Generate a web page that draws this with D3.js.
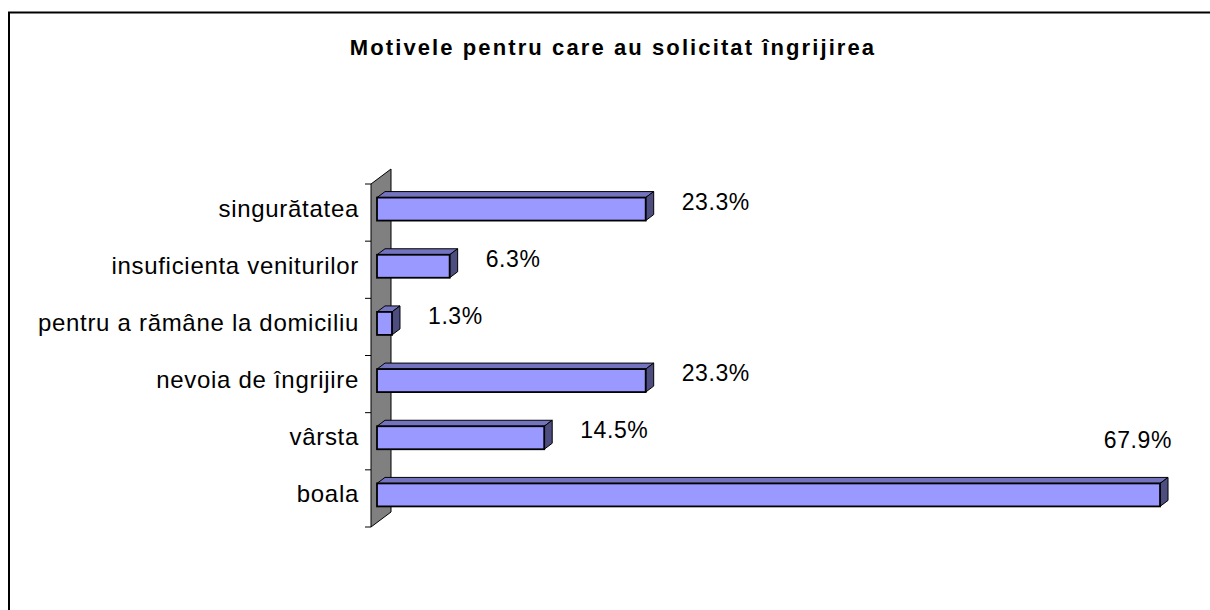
<!DOCTYPE html>
<html>
<head>
<meta charset="utf-8">
<script src="https://cdnjs.cloudflare.com/ajax/libs/d3/7.8.5/d3.min.js"></script>
<style>
  html, body { margin: 0; padding: 0; background: #fff; }
  svg text { font-family: "Liberation Sans", Arial, sans-serif; }
</style>
</head>
<body>
<div id="chart"></div>
<script>
// categories top to bottom, as in the picture
var categories = ['singurătatea', 'insuficienta veniturilor', 'pentru a rămâne la domiciliu',
                  'nevoia de îngrijire', 'vârsta', 'boala'];
var values = [23.3, 6.3, 1.3, 23.3, 14.5, 67.9];
var title = 'Motivele pentru care au solicitat îngrijirea';

var width = 1210;
var height = 610;

var svg = d3.select('#chart')
  .append('svg')
  .attr('width', width)
  .attr('height', height);

// outer frame (only left and top edges fall inside the picture)
svg.append('path')
  .attr('d', 'M9,' + height + 'V12.5H' + width)
  .attr('fill', 'none')
  .attr('stroke', '#000')
  .attr('stroke-width', 2);

svg.append('text')
  .attr('x', 613)
  .attr('y', 55)
  .attr('text-anchor', 'middle')
  .attr('font-weight', 'bold')
  .attr('font-size', 22)
  .attr('letter-spacing', 2.1)
  .text(title);

var x = d3.scaleLinear().domain([0, 70]).range([377, 377 + 70 * 11.532]);
var y = d3.scaleBand().domain(categories).range([184, 527]);

var depthX = 20, depthY = -15;   // wall depth
var barDX = 8, barDY = -6;       // bar depth
var barH = 23;

var wallX = 371;
// gray back wall
svg.append('path')
  .attr('d', 'M' + wallX + ',' + y.range()[0] +
    'L' + (wallX + depthX) + ',' + (y.range()[0] + depthY) +
    'L' + (wallX + depthX) + ',' + (y.range()[1] + depthY) +
    'L' + wallX + ',' + y.range()[1] + 'Z')
  .attr('fill', '#808080')
  .attr('stroke', '#000')
  .attr('stroke-width', 1);

// category ticks
var ticks = d3.range(categories.length + 1).map(function(i) { return y.range()[0] + i * y.step(); });
svg.append('g').selectAll('line')
  .data(ticks)
  .enter().append('line')
    .attr('x1', wallX - 6)
    .attr('x2', wallX)
    .attr('y1', function(d) { return d; })
    .attr('y2', function(d) { return d; })
    .attr('stroke', '#000');

// category labels
svg.append('g').selectAll('text')
  .data(categories)
  .enter().append('text')
    .attr('x', 359)
    .attr('y', function(d) { return y(d) + y.step() / 2 + 4; })
    .attr('text-anchor', 'end')
    .attr('font-size', 24)
    .attr('letter-spacing', 0.7)
    .text(function(d) { return d; });

// bars
var rows = categories.map(function(c, i) { return { name: c, value: values[i] }; });
var bar = svg.append('g').selectAll('g')
  .data(rows)
  .enter().append('g');

function barTop(d) { return y(d.name) + y.step() / 2 - 15; }

// top face
bar.append('path')
  .attr('d', function(d) {
    var x0 = x(0), x1 = x(d.value), t = barTop(d);
    return 'M' + x0 + ',' + t + 'L' + (x0 + barDX) + ',' + (t + barDY) +
      'L' + (x1 + barDX) + ',' + (t + barDY) + 'L' + x1 + ',' + t + 'Z';
  })
  .attr('fill', '#7373bf')
  .attr('stroke', '#000')
  .attr('stroke-linejoin', 'round');

// right face
bar.append('path')
  .attr('d', function(d) {
    var x1 = x(d.value), t = barTop(d);
    return 'M' + x1 + ',' + t + 'L' + (x1 + barDX) + ',' + (t + barDY) +
      'L' + (x1 + barDX) + ',' + (t + barDY + barH) + 'L' + x1 + ',' + (t + barH) + 'Z';
  })
  .attr('fill', '#4d4d80')
  .attr('stroke', '#000')
  .attr('stroke-linejoin', 'round');

// front face
bar.append('rect')
  .attr('x', x(0))
  .attr('y', barTop)
  .attr('width', function(d) { return x(d.value) - x(0); })
  .attr('height', barH)
  .attr('fill', '#9999ff')
  .attr('stroke', '#000')
  .attr('stroke-width', 1.8);

// value labels
var labelRight = 1172;
bar.append('text')
  .attr('font-size', 23)
  .attr('letter-spacing', 0.6)
  .text(function(d) { return d3.format('.1f')(d.value) + '%'; })
  .each(function(d) {
    var t = d3.select(this);
    var lx = x(d.value) + 36;
    var ly = y(d.name) + y.step() / 2 - 3;
    var w = this.getComputedTextLength();
    if (lx + w > labelRight) {
      // no room on the right: pull it back and lift it above the bar
      lx = labelRight - w;
      ly = y(d.name) + y.step() / 2 - 50;
    }
    t.attr('x', lx).attr('y', ly);
  });
</script>
</body>
</html>
